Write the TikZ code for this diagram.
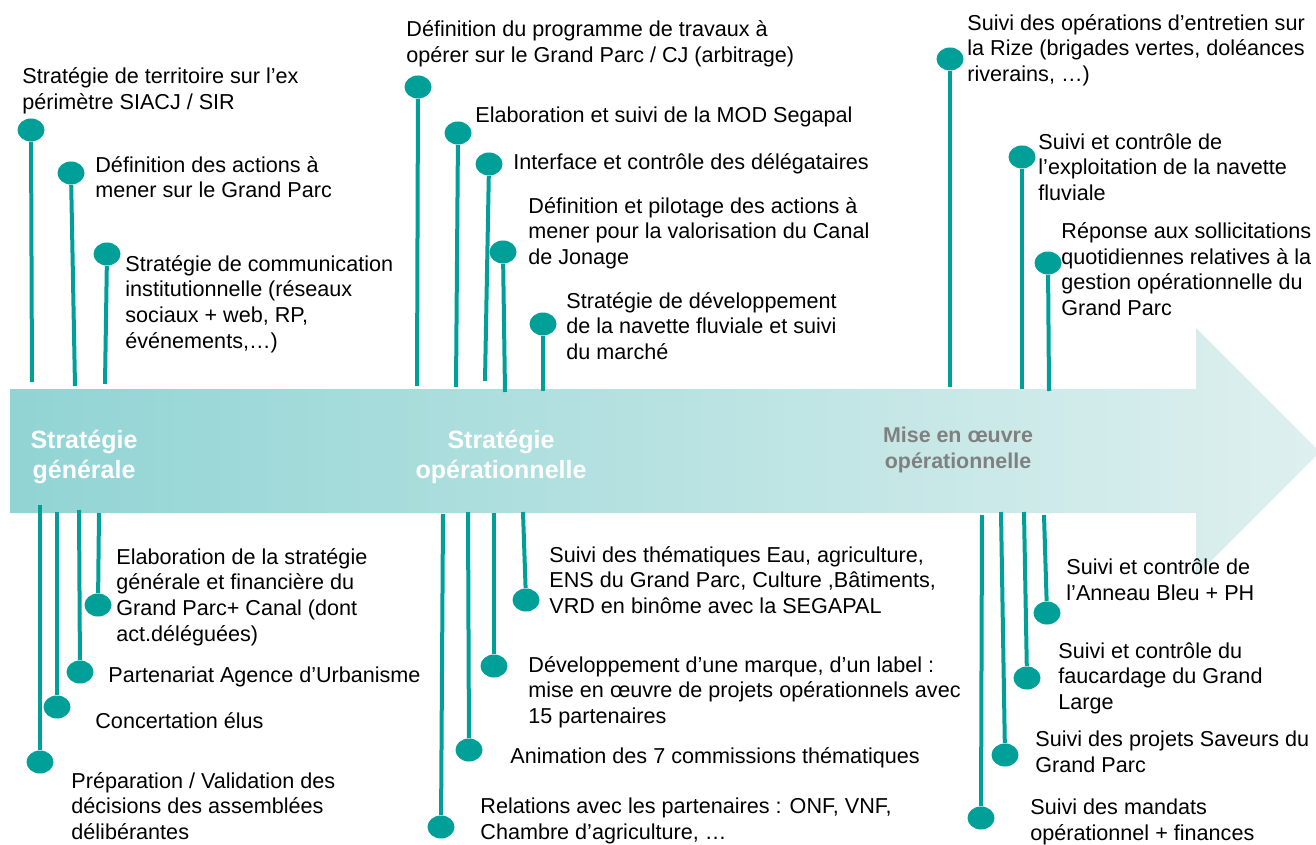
\documentclass[tikz,border=0pt]{standalone}
\usepackage{fontspec}
\setmainfont{Liberation Sans}
\usetikzlibrary{shapes.geometric}
\definecolor{tealpin}{RGB}{0,160,153}
\definecolor{arrowL}{RGB}{145,212,212}
\definecolor{arrowR}{RGB}{222,240,239}
\definecolor{stagegrey}{RGB}{128,128,128}
\tikzset{
  knob/.style={fill=tealpin, ellipse, minimum width=13.5pt, minimum height=11.5pt, inner sep=0pt},
  stem/.style={draw=tealpin, line width=2pt},
  note/.style={anchor=west, align=left, inner sep=0pt, font=\fontsize{10.8}{12.8}\selectfont},
  stagetxt/.style={align=center, inner sep=0pt, text=white, font=\bfseries\fontsize{12.5}{15}\selectfont}
}
\begin{document}
\begin{tikzpicture}[x=0.5pt, y=-0.5pt]
    \useasboundingbox (0,0) rectangle (1316,845);

    % the big arrow
    \shade[left color=arrowL, right color=arrowR] (10,389) -- (1196,389) -- (1196,328) -- (1320,452) -- (1196,576) -- (1196,513) -- (10,513) -- cycle;
    \node (sgen) [stagetxt] at (84,457) {Stratégie\\générale};
    \node (sop) [stagetxt] at (501,457) {Stratégie\\opérationnelle};
    \node (mise) [stagetxt, text=stagegrey, font=\bfseries\fontsize{10.7}{13}\selectfont] at (958,450) {Mise en œuvre\\opérationnelle};

    % pins above
    \node (k1) [knob] at (31,130) {};
    \node (k2) [knob] at (71,173) {};
    \node (k3) [knob] at (107,254) {};
    \node (k4) [knob] at (418,87) {};
    \node (k5) [knob] at (458,133) {};
    \node (k6) [knob] at (489,164) {};
    \node (k7) [knob] at (503,252) {};
    \node (k8) [knob] at (543,324) {};
    \node (k9) [knob] at (950,59) {};
    \node (k10) [knob] at (1022,157) {};
    \node (k11) [knob] at (1048,263) {};
    \coordinate (b1) at (32,382);
    \coordinate (b2) at (75,386);
    \coordinate (b3) at (105,384);
    \coordinate (b4) at (417,386);
    \coordinate (b5) at (456,387);
    \coordinate (b6) at (485,381);
    \coordinate (b7) at (505,392);
    \coordinate (b8) at (543,391);
    \coordinate (b9) at (950,387);
    \coordinate (b10) at (1022,389);
    \coordinate (b11) at (1049,391);

    % pins below
    \node (k12) [knob] at (40,762) {};
    \node (k13) [knob] at (57,707) {};
    \node (k14) [knob] at (80,672) {};
    \node (k15) [knob] at (98,605) {};
    \node (k16) [knob] at (441,827) {};
    \node (k17) [knob] at (469,750) {};
    \node (k18) [knob] at (494,666) {};
    \node (k19) [knob] at (526,600) {};
    \node (k20) [knob] at (981,818) {};
    \node (k21) [knob] at (1005,755) {};
    \node (k22) [knob] at (1027,678) {};
    \node (k23) [knob] at (1047,613) {};
    \coordinate (b12) at (40,505);
    \coordinate (b13) at (57,512);
    \coordinate (b14) at (79,510);
    \coordinate (b15) at (99,513);
    \coordinate (b16) at (443,514);
    \coordinate (b17) at (468,512);
    \coordinate (b18) at (494,513);
    \coordinate (b19) at (523,512);
    \coordinate (b20) at (982,515);
    \coordinate (b21) at (1001,512);
    \coordinate (b22) at (1024,512);
    \coordinate (b23) at (1044,515);

    \draw[stem] (k1) -- (b1);
    \draw[stem] (k2) -- (b2);
    \draw[stem] (k3) -- (b3);
    \draw[stem] (k4) -- (b4);
    \draw[stem] (k5) -- (b5);
    \draw[stem] (k6) -- (b6);
    \draw[stem] (k7) -- (b7);
    \draw[stem] (k8) -- (b8);
    \draw[stem] (k9) -- (b9);
    \draw[stem] (k10) -- (b10);
    \draw[stem] (k11) -- (b11);
    \draw[stem] (k12) -- (b12);
    \draw[stem] (k13) -- (b13);
    \draw[stem] (k14) -- (b14);
    \draw[stem] (k15) -- (b15);
    \draw[stem] (k16) -- (b16);
    \draw[stem] (k17) -- (b17);
    \draw[stem] (k18) -- (b18);
    \draw[stem] (k19) -- (b19);
    \draw[stem] (k20) -- (b20);
    \draw[stem] (k21) -- (b21);
    \draw[stem] (k22) -- (b22);
    \draw[stem] (k23) -- (b23);

    % texts above
    \node (t1) [note] at (22,91) {Stratégie de territoire sur l’ex\\périmètre SIACJ / SIR};
    \node (t2) [note] at (95,177) {Définition des actions à\\mener sur le Grand Parc};
    \node (t3) [note] at (125,304) {Stratégie de communication\\institutionnelle (réseaux\\sociaux + web, RP,\\événements,…)};
    \node (t4) [note] at (406,44) {Définition du programme de travaux à\\opérer sur le Grand Parc / CJ (arbitrage)};
    \node (t5) [note] at (475,117) {Elaboration et suivi de la MOD Segapal};
    \node (t6) [note] at (513,164) {Interface et contrôle des délégataires};
    \node (t7) [note] at (528,233) {Définition et pilotage des actions à\\mener pour la valorisation du Canal\\de Jonage};
    \node (t8) [note] at (566,326) {Stratégie de développement\\de la navette fluviale et suivi\\du marché};
    \node (t9) [note] at (967,50) {Suivi des opérations d’entretien sur\\la Rize (brigades vertes, doléances\\riverains, …)};
    \node (t10) [note] at (1038,167) {Suivi et contrôle de\\l’exploitation de la navette\\fluviale};
    \node (t11) [note] at (1061,269) {Réponse aux sollicitations\\quotidiennes relatives à la\\gestion opérationnelle du\\Grand Parc};

    % texts below
    \node (t12) [note] at (71,806) {Préparation / Validation des\\décisions des assemblées\\délibérantes};
    \node (t13) [note] at (95,721) {Concertation élus};
    \node (t14) [note] at (108,677) {Partenariat Agence d’Urbanisme};
    \node (t15) [note] at (116,597) {Elaboration de la stratégie\\générale et financière du\\Grand Parc+ Canal (dont\\act.déléguées)};
    \node (t16) [note] at (480,821) {Relations avec les partenaires : ONF, VNF,\\Chambre d’agriculture, …};
    \node (t17) [note] at (510,758) {Animation des 7 commissions thématiques};
    \node (t18) [note] at (528,692) {Développement d’une marque, d’un label :\\mise en œuvre de projets opérationnels avec\\15 partenaires};
    \node (t19) [note] at (549,580) {Suivi des thématiques Eau, agriculture,\\ENS du Grand Parc, Culture ,Bâtiments,\\VRD en binôme avec la SEGAPAL};
    \node (t20) [note] at (1030,822) {Suivi des mandats\\opérationnel + finances};
    \node (t21) [note] at (1035,752) {Suivi des projets Saveurs du\\Grand Parc};
    \node (t22) [note] at (1058,678) {Suivi et contrôle du\\faucardage du Grand\\Large};
    \node (t23) [note] at (1066,580) {Suivi et contrôle de\\l’Anneau Bleu + PH};
\end{tikzpicture}
\end{document}
